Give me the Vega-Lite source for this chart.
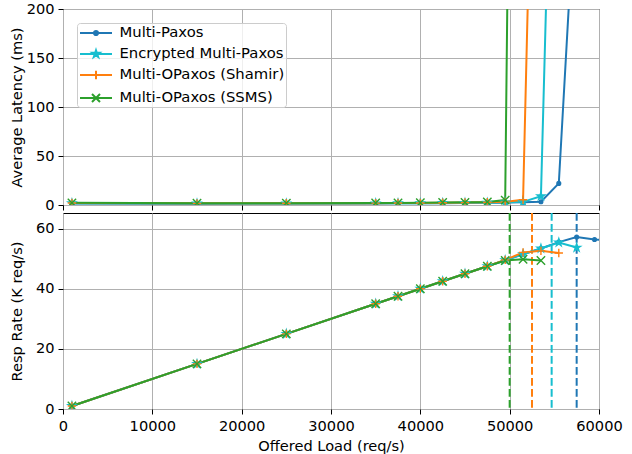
{
  "$schema": "https://vega.github.io/schema/vega-lite/v6.json",
  "padding": {"left": 8, "top": 0, "right": 5, "bottom": 5},
  "config": {
    "font": "DejaVu Sans",
    "view": {"stroke": "black", "strokeWidth": 1},
    "axis": {
      "labelFont": "DejaVu Sans", "titleFont": "DejaVu Sans",
      "labelFontSize": 14.6, "titleFontSize": 14.6, "titleFontWeight": "normal",
      "labelColor": "black", "titleColor": "black", "tickColor": "black",
      "domain": false, "gridColor": "#b0b0b0", "gridWidth": 1,
      "tickSize": 5, "labelPadding": 4, "labelFlush": false, "labelOverlap": false
    },
    "legend": {
      "labelFont": "DejaVu Sans", "labelFontSize": 14.8, "labelColor": "black"
    }
  },
  "datasets": {
    "perf": [
      {"series": "Multi-Paxos", "load": 1000, "lat": 1.6, "rate": 1.0},
      {"series": "Multi-Paxos", "load": 15000, "lat": 1.4, "rate": 15.0},
      {"series": "Multi-Paxos", "load": 25000, "lat": 1.5, "rate": 25.0},
      {"series": "Multi-Paxos", "load": 35000, "lat": 1.6, "rate": 35.0},
      {"series": "Multi-Paxos", "load": 37500, "lat": 1.7, "rate": 37.5},
      {"series": "Multi-Paxos", "load": 40000, "lat": 1.8, "rate": 40.0},
      {"series": "Multi-Paxos", "load": 42500, "lat": 1.9, "rate": 42.5},
      {"series": "Multi-Paxos", "load": 45000, "lat": 2.0, "rate": 45.0},
      {"series": "Multi-Paxos", "load": 47500, "lat": 2.2, "rate": 47.5},
      {"series": "Multi-Paxos", "load": 49500, "lat": 2.4, "rate": 49.5},
      {"series": "Multi-Paxos", "load": 51500, "lat": 2.7, "rate": 51.5},
      {"series": "Multi-Paxos", "load": 53500, "lat": 3.3, "rate": 53.4},
      {"series": "Multi-Paxos", "load": 55500, "lat": 22, "rate": 55.5},
      {"series": "Multi-Paxos", "load": 57500, "lat": 345, "rate": 57.2},
      {"series": "Multi-Paxos", "load": 59500, "lat": 800, "rate": 56.4},
      {"series": "Multi-Paxos", "load": 61500, "lat": 1200, "rate": 56.0},
      {"series": "Encrypted Multi-Paxos", "load": 1000, "lat": 1.8, "rate": 1.0},
      {"series": "Encrypted Multi-Paxos", "load": 15000, "lat": 1.5, "rate": 15.0},
      {"series": "Encrypted Multi-Paxos", "load": 25000, "lat": 1.6, "rate": 25.0},
      {"series": "Encrypted Multi-Paxos", "load": 35000, "lat": 1.7, "rate": 35.0},
      {"series": "Encrypted Multi-Paxos", "load": 37500, "lat": 1.8, "rate": 37.5},
      {"series": "Encrypted Multi-Paxos", "load": 40000, "lat": 1.9, "rate": 40.0},
      {"series": "Encrypted Multi-Paxos", "load": 42500, "lat": 2.0, "rate": 42.5},
      {"series": "Encrypted Multi-Paxos", "load": 45000, "lat": 2.2, "rate": 45.0},
      {"series": "Encrypted Multi-Paxos", "load": 47500, "lat": 2.4, "rate": 47.5},
      {"series": "Encrypted Multi-Paxos", "load": 49500, "lat": 2.7, "rate": 49.5},
      {"series": "Encrypted Multi-Paxos", "load": 51500, "lat": 3.2, "rate": 51.5},
      {"series": "Encrypted Multi-Paxos", "load": 53500, "lat": 9, "rate": 53.4},
      {"series": "Encrypted Multi-Paxos", "load": 55500, "lat": 690, "rate": 55.4},
      {"series": "Encrypted Multi-Paxos", "load": 57500, "lat": 1500, "rate": 53.7},
      {"series": "Multi-OPaxos (Shamir)", "load": 1000, "lat": 2.0, "rate": 1.0},
      {"series": "Multi-OPaxos (Shamir)", "load": 15000, "lat": 1.7, "rate": 15.0},
      {"series": "Multi-OPaxos (Shamir)", "load": 25000, "lat": 1.8, "rate": 25.0},
      {"series": "Multi-OPaxos (Shamir)", "load": 35000, "lat": 1.9, "rate": 35.0},
      {"series": "Multi-OPaxos (Shamir)", "load": 37500, "lat": 2.0, "rate": 37.5},
      {"series": "Multi-OPaxos (Shamir)", "load": 40000, "lat": 2.1, "rate": 40.0},
      {"series": "Multi-OPaxos (Shamir)", "load": 42500, "lat": 2.3, "rate": 42.5},
      {"series": "Multi-OPaxos (Shamir)", "load": 45000, "lat": 2.5, "rate": 45.0},
      {"series": "Multi-OPaxos (Shamir)", "load": 47500, "lat": 2.8, "rate": 47.5},
      {"series": "Multi-OPaxos (Shamir)", "load": 49500, "lat": 3.2, "rate": 49.6},
      {"series": "Multi-OPaxos (Shamir)", "load": 51500, "lat": 5.3, "rate": 52.1},
      {"series": "Multi-OPaxos (Shamir)", "load": 53500, "lat": 765, "rate": 52.6},
      {"series": "Multi-OPaxos (Shamir)", "load": 55500, "lat": 1500, "rate": 51.9},
      {"series": "Multi-OPaxos (SSMS)", "load": 1000, "lat": 2.2, "rate": 1.0},
      {"series": "Multi-OPaxos (SSMS)", "load": 15000, "lat": 1.8, "rate": 15.0},
      {"series": "Multi-OPaxos (SSMS)", "load": 25000, "lat": 1.9, "rate": 25.0},
      {"series": "Multi-OPaxos (SSMS)", "load": 35000, "lat": 2.0, "rate": 35.0},
      {"series": "Multi-OPaxos (SSMS)", "load": 37500, "lat": 2.1, "rate": 37.5},
      {"series": "Multi-OPaxos (SSMS)", "load": 40000, "lat": 2.3, "rate": 40.0},
      {"series": "Multi-OPaxos (SSMS)", "load": 42500, "lat": 2.5, "rate": 42.5},
      {"series": "Multi-OPaxos (SSMS)", "load": 45000, "lat": 2.7, "rate": 45.0},
      {"series": "Multi-OPaxos (SSMS)", "load": 47500, "lat": 3.1, "rate": 47.5},
      {"series": "Multi-OPaxos (SSMS)", "load": 49500, "lat": 5.0, "rate": 49.4},
      {"series": "Multi-OPaxos (SSMS)", "load": 51500, "lat": 1700, "rate": 49.8},
      {"series": "Multi-OPaxos (SSMS)", "load": 53500, "lat": 3000, "rate": 49.4}
    ],
    "sat": [
      {"series": "Multi-OPaxos (SSMS)", "load": 50000},
      {"series": "Multi-OPaxos (Shamir)", "load": 52500},
      {"series": "Encrypted Multi-Paxos", "load": 54700},
      {"series": "Multi-Paxos", "load": 57500}
    ]
  },
  "spacing": -2,
  "resolve": {
    "scale": {"color": "independent", "fill": "independent", "stroke": "independent", "shape": "independent"},
    "legend": {"color": "independent", "fill": "independent", "stroke": "independent", "shape": "independent"}
  },
  "vconcat": [
    {
      "width": 536,
      "height": 196,
      "data": {"name": "perf"},
      "encoding": {
        "x": {"field": "load", "type": "quantitative",
              "scale": {"domain": [0, 60000], "nice": false},
              "axis": {"labels": false, "title": null, "values": [0, 10000, 20000, 30000, 40000, 50000, 60000]}},
        "y": {"field": "lat", "type": "quantitative",
              "scale": {"domain": [0, 200], "nice": false},
              "axis": {"title": "Average Latency (ms)", "values": [0, 50, 100, 150, 200], "titleX": -38.5}}
      },
      "layer": [
        {
          "mark": {"type": "line", "clip": true, "strokeWidth": 2},
          "encoding": {
            "stroke": {"field": "series", "type": "nominal",
              "scale": {"domain": ["Multi-Paxos", "Encrypted Multi-Paxos", "Multi-OPaxos (Shamir)", "Multi-OPaxos (SSMS)"],
                        "range": ["#1f77b4", "#17becf", "#ff7f0e", "#2ca02c"]}}
          }
        },
        {
          "transform": [{"filter": "datum.series === 'Multi-Paxos'"}],
          "mark": {"type": "point", "clip": true, "shape": "circle", "filled": true, "size": 14, "fill": "#1f77b4", "stroke": "#1f77b4", "strokeWidth": 1.4, "opacity": 1}
        },
        {
          "transform": [{"filter": "datum.series === 'Encrypted Multi-Paxos'"}],
          "mark": {"type": "point", "clip": true, "shape": "M0,-1L0.225,-0.309L0.951,-0.309L0.363,0.118L0.588,0.809L0,0.382L-0.588,0.809L-0.363,0.118L-0.951,-0.309L-0.225,-0.309Z", "filled": true, "size": 64, "fill": "#17becf", "stroke": "#17becf", "strokeWidth": 1.4, "opacity": 1}
        },
        {
          "transform": [{"filter": "datum.series === 'Multi-OPaxos (Shamir)'"}],
          "mark": {"type": "point", "clip": true, "shape": "M-1,0H1M0,-1V1", "filled": false, "size": 70, "stroke": "#ff7f0e", "strokeWidth": 1.4, "opacity": 1}
        },
        {
          "transform": [{"filter": "datum.series === 'Multi-OPaxos (SSMS)'"}],
          "mark": {"type": "point", "clip": true, "shape": "M-1,-1L1,1M-1,1L1,-1", "filled": false, "size": 70, "stroke": "#2ca02c", "strokeWidth": 1.4, "opacity": 1}
        },
        {
          "mark": {"type": "point", "clip": true, "filled": true, "opacity": 1, "strokeWidth": 2},
          "encoding": {
            "y": {"datum": -1000, "type": "quantitative"},
            "fill": {"field": "series", "type": "nominal",
              "scale": {"domain": ["Multi-Paxos", "Encrypted Multi-Paxos", "Multi-OPaxos (Shamir)", "Multi-OPaxos (SSMS)"],
                        "range": ["#1f77b4", "#17becf", "#ff7f0e", "#2ca02c"]},
              "legend": {"title": null, "orient": "top-left", "offset": 14, "padding": 1,
                "fillColor": "rgba(255,255,255,0.8)", "strokeColor": "#cccccc", "cornerRadius": 3,
                "symbolSize": 256, "symbolStrokeWidth": 2, "symbolOffset": 9,
                "labelOffset": 14.5, "rowPadding": 5, "labelFontSize": 14.8, "labelLimit": 300}},
            "stroke": {"field": "series", "type": "nominal",
              "legend": {"title": null, "orient": "top-left", "offset": 14, "padding": 1,
                "fillColor": "rgba(255,255,255,0.8)", "strokeColor": "#cccccc", "cornerRadius": 3,
                "symbolSize": 256, "symbolStrokeWidth": 2, "symbolOffset": 9,
                "labelOffset": 14.5, "rowPadding": 5, "labelFontSize": 14.8, "labelLimit": 300}},
            "shape": {"field": "series", "type": "nominal",
              "scale": {"domain": ["Multi-Paxos", "Encrypted Multi-Paxos", "Multi-OPaxos (Shamir)", "Multi-OPaxos (SSMS)"],
                        "range": [
                          "M-2,0H2M0.26,0A0.26,0.26,0,1,1,-0.26,0A0.26,0.26,0,1,1,0.26,0Z",
                          "M-2,0H2M0,-0.46L0.103,-0.142L0.437,-0.142L0.167,0.054L0.27,0.372L0,0.176L-0.27,0.372L-0.167,0.054L-0.437,-0.142L-0.103,-0.142Z",
                          "M-2,0H2M0,-0.52V0.52",
                          "M-2,0H2M-0.5,-0.5L0.5,0.5M-0.5,0.5L0.5,-0.5"
                        ]},
              "legend": {"title": null, "orient": "top-left", "offset": 14, "padding": 1,
                "fillColor": "rgba(255,255,255,0.8)", "strokeColor": "#cccccc", "cornerRadius": 3,
                "symbolSize": 256, "symbolStrokeWidth": 2, "symbolOffset": 9,
                "labelOffset": 14.5, "rowPadding": 5, "labelFontSize": 14.8, "labelLimit": 300}}
          }
        }
      ]
    },
    {
      "width": 536,
      "height": 196,
      "layer": [
        {
          "data": {"name": "sat"},
          "mark": {"type": "rule", "strokeWidth": 2, "strokeDash": [7.7, 3.3]},
          "encoding": {
            "x": {"field": "load", "type": "quantitative",
                  "scale": {"domain": [0, 60000], "nice": false},
                  "axis": {"title": "Offered Load (req/s)", "format": "d", "values": [0, 10000, 20000, 30000, 40000, 50000, 60000], "titlePadding": 6}},
            "color": {"field": "series", "type": "nominal", "legend": null,
              "scale": {"domain": ["Multi-Paxos", "Encrypted Multi-Paxos", "Multi-OPaxos (Shamir)", "Multi-OPaxos (SSMS)"],
                        "range": ["#1f77b4", "#17becf", "#ff7f0e", "#2ca02c"]}}
          }
        },
        {
          "data": {"name": "perf"},
          "encoding": {
            "x": {"field": "load", "type": "quantitative"},
            "y": {"field": "rate", "type": "quantitative",
                  "scale": {"domain": [0, 65.2], "nice": false},
                  "axis": {"title": "Resp Rate (K req/s)", "values": [0, 20, 40, 60], "titleX": -38.5}}
          },
          "layer": [
            {
              "mark": {"type": "line", "clip": true, "strokeWidth": 2},
              "encoding": {"color": {"field": "series", "type": "nominal", "legend": null}}
            },
            {
              "transform": [{"filter": "datum.series === 'Multi-Paxos'"}],
              "mark": {"type": "point", "clip": true, "shape": "circle", "filled": true, "size": 14, "fill": "#1f77b4", "stroke": "#1f77b4", "strokeWidth": 1.4, "opacity": 1}
            },
            {
              "transform": [{"filter": "datum.series === 'Encrypted Multi-Paxos'"}],
              "mark": {"type": "point", "clip": true, "shape": "M0,-1L0.225,-0.309L0.951,-0.309L0.363,0.118L0.588,0.809L0,0.382L-0.588,0.809L-0.363,0.118L-0.951,-0.309L-0.225,-0.309Z", "filled": true, "size": 64, "fill": "#17becf", "stroke": "#17becf", "strokeWidth": 1.4, "opacity": 1}
            },
            {
              "transform": [{"filter": "datum.series === 'Multi-OPaxos (Shamir)'"}],
              "mark": {"type": "point", "clip": true, "shape": "M-1,0H1M0,-1V1", "filled": false, "size": 70, "stroke": "#ff7f0e", "strokeWidth": 1.4, "opacity": 1}
            },
            {
              "transform": [{"filter": "datum.series === 'Multi-OPaxos (SSMS)'"}],
              "mark": {"type": "point", "clip": true, "shape": "M-1,-1L1,1M-1,1L1,-1", "filled": false, "size": 70, "stroke": "#2ca02c", "strokeWidth": 1.4, "opacity": 1}
            }
          ]
        }
      ]
    }
  ]
}
